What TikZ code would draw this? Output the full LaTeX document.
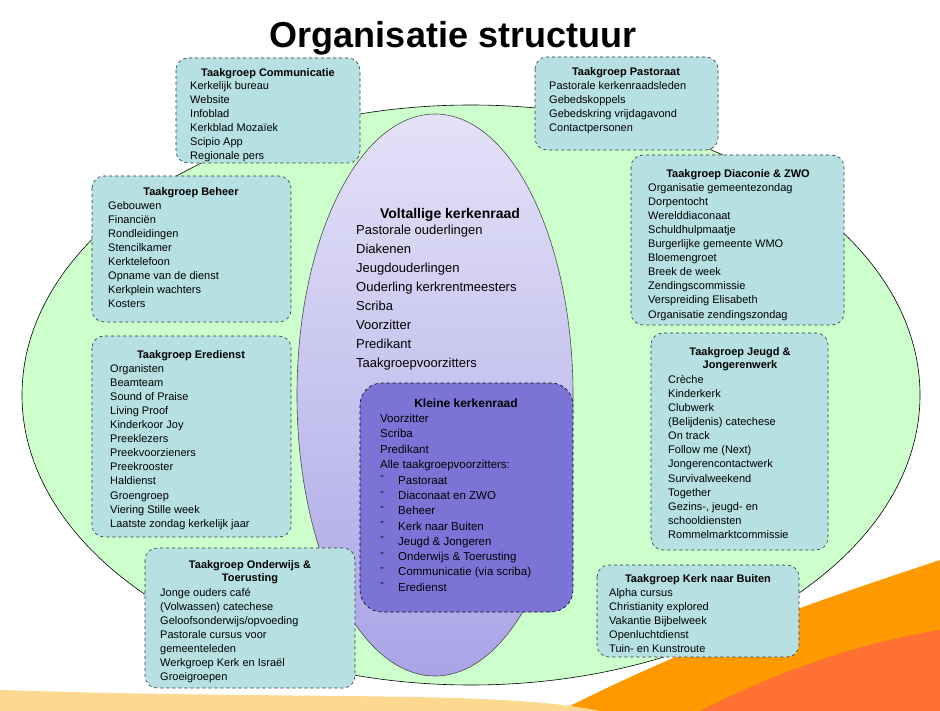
\documentclass[tikz,border=0pt]{standalone}
\usepackage{fontspec}
\setmainfont{Liberation Sans}
\begin{document}
\begin{tikzpicture}[x=1pt,y=-1pt,
  box/.style={draw=black!80,dashed,fill=boxc,rounded corners=12pt,line width=0.6pt},
  ttl/.style={font=\fontsize{11}{13}\selectfont\bfseries,align=center,anchor=north,inner sep=0pt},
  lst/.style={font=\fontsize{11}{14.1}\selectfont,align=left,anchor=north west,inner sep=0pt}]
\definecolor{boxc}{HTML}{B7E0E2}
\definecolor{grn}{HTML}{CCFFCC}
\definecolor{kl}{HTML}{7B74D6}
\definecolor{lavt}{HTML}{E4E2F8}
\definecolor{lavb}{HTML}{A9A4E6}
\useasboundingbox (0,0) rectangle (940,711);
\fill[white] (0,0) rectangle (940,711);
% orange swoosh
\fill[orange!80!yellow] (560,711) .. controls (700,640) and (820,600) .. (940,560) -- (940,711) -- cycle;
\fill[orange!60!red!80] (700,711) .. controls (800,660) and (880,640) .. (940,630) -- (940,711) -- cycle;
\fill[yellow!30!orange!40] (0,690) .. controls (300,700) and (500,690) .. (600,711) -- (0,711) -- cycle;
\node[font=\fontsize{36}{40}\selectfont\bfseries] (title) at (453,38) {Organisatie structuur};
% big ellipse
\draw[fill=grn,line width=0.6pt] (471,395) ellipse [x radius=449,y radius=290];
\shade[top color=lavt,bottom color=lavb,draw=black!70,line width=0.6pt] (435,395) ellipse [x radius=138,y radius=281];
\node[font=\fontsize{14}{16}\selectfont\bfseries,anchor=north] (vt) at (450,205) {Voltallige kerkenraad};
\node[lst,font=\fontsize{13}{19}\selectfont] (vl) at (356,225) {Pastorale ouderlingen\\Diakenen\\Jeugdouderlingen\\Ouderling kerkrentmeesters\\Scriba\\Voorzitter\\Predikant\\Taakgroepvoorzitters};
% kleine
\draw[dashed,fill=kl,rounded corners=22pt,line width=0.6pt] (360,383) rectangle (573,612);
\node[ttl,font=\fontsize{12}{14}\selectfont\bfseries] (kt) at (466,399) {Kleine kerkenraad};
\node[lst,font=\fontsize{11.5}{15.3}\selectfont] (kll) at (380,414) {Voorzitter\\Scriba\\Predikant\\Alle taakgroepvoorzitters:};
\node[lst,font=\fontsize{11.5}{15.3}\selectfont] (kl2) at (380,476) {{-}\\{-}\\{-}\\{-}\\{-}\\{-}\\{-}\\{-}};
\node[lst,font=\fontsize{11.5}{15.3}\selectfont] (kl3) at (398,476) {Pastoraat\\Diaconaat en ZWO\\Beheer\\Kerk naar Buiten\\Jeugd \& Jongeren\\Onderwijs \& Toerusting\\Communicatie (via scriba)\\Eredienst};
% Communicatie
\draw[box] (176,58) rectangle (360,163);
\node[ttl] (t1) at (268,68) {Taakgroep Communicatie};
\node[lst] (l1) at (190,81) {Kerkelijk bureau\\Website\\Infoblad\\Kerkblad Mozaïek\\Scipio App\\Regionale pers};
% Pastoraat
\draw[box] (535,57) rectangle (718,150);
\node[ttl] (t2) at (626,67) {Taakgroep Pastoraat};
\node[lst] (l2) at (549,81) {Pastorale kerkenraadsleden\\Gebedskoppels\\Gebedskring vrijdagavond\\Contactpersonen};
% Beheer
\draw[box] (92,176) rectangle (291,322);
\node[ttl] (t3) at (191,187) {Taakgroep Beheer};
\node[lst] (l3) at (108,201) {Gebouwen\\Financiën\\Rondleidingen\\Stencilkamer\\Kerktelefoon\\Opname van de dienst\\Kerkplein wachters\\Kosters};
% Diaconie
\draw[box] (631,155) rectangle (844,325);
\node[ttl] (t4) at (738,169) {Taakgroep Diaconie \& ZWO};
\node[lst] (l4) at (648,183) {Organisatie gemeentezondag\\Dorpentocht\\Werelddiaconaat\\Schuldhulpmaatje\\Burgerlijke gemeente WMO\\Bloemengroet\\Breek de week\\Zendingscommissie\\Verspreiding Elisabeth\\Organisatie zendingszondag};
% Eredienst
\draw[box] (92,336) rectangle (291,537);
\node[ttl] (t5) at (191,350) {Taakgroep Eredienst};
\node[lst] (l5) at (110,364) {Organisten\\Beamteam\\Sound of Praise\\Living Proof\\Kinderkoor Joy\\Preeklezers\\Preekvoorzieners\\Preekrooster\\Haldienst\\Groengroep\\Viering Stille week\\Laatste zondag kerkelijk jaar};
% Jeugd
\draw[box] (651,333) rectangle (828,550);
\node[ttl] (t6) at (740,347) {Taakgroep Jeugd \&\\Jongerenwerk};
\node[lst] (l6) at (668,375) {Crèche\\Kinderkerk\\Clubwerk\\(Belijdenis) catechese\\On track\\Follow me (Next)\\Jongerencontactwerk\\Survivalweekend\\Together\\Gezins-, jeugd- en\\schooldiensten\\Rommelmarktcommissie};
% Onderwijs
\draw[box] (145,548) rectangle (355,688);
\node[ttl] (t7) at (250,560) {Taakgroep Onderwijs \&\\Toerusting};
\node[lst] (l7) at (160,588) {Jonge ouders café\\(Volwassen) catechese\\Geloofsonderwijs/opvoeding\\Pastorale cursus voor\\gemeenteleden\\Werkgroep Kerk en Israël\\Groeigroepen};
% Kerk naar Buiten
\draw[box] (597,565) rectangle (799,657);
\node[ttl] (t8) at (698,574) {Taakgroep Kerk naar Buiten};
\node[lst] (l8) at (609,588) {Alpha cursus\\Christianity explored\\Vakantie Bijbelweek\\Openluchtdienst\\Tuin- en Kunstroute};
\end{tikzpicture}
\end{document}
